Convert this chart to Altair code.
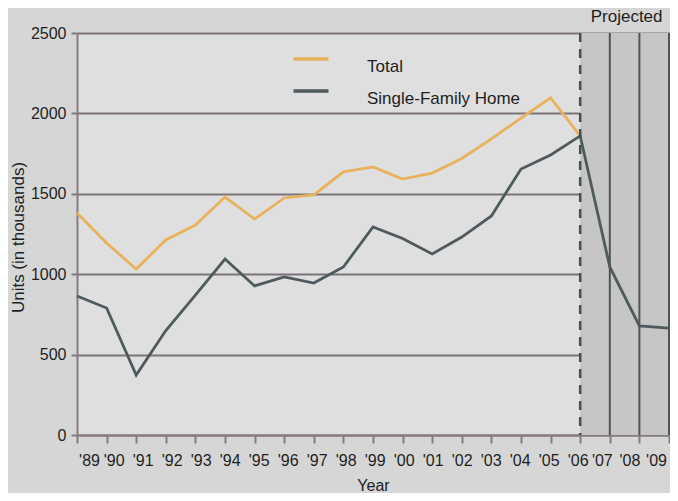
import altair as alt
import pandas as pd

years = list(range(1989, 2010))
total_years = list(range(1989, 2007))
total = [1381, 1194, 1032, 1213, 1306, 1480, 1343, 1474, 1493, 1636,
         1667, 1592, 1629, 1720, 1841, 1971, 2096, 1860]
single_family = [864, 790, 373, 650, 870, 1094, 927, 983, 945, 1045,
                 1294, 1222, 1126, 1231, 1362, 1654, 1741, 1860, 1045, 678, 665]
series_names = ["Total", "Single-Family Home"]
series_colors = ["#e8b25c", "#4f5a5e"]
projected_start, projected_end = 2006, 2009
solid_dividers = [2007, 2008, 2009]
y_ticks = [0, 500, 1000, 1500, 2000, 2500]

rows = [{"year": y, "units": v, "series": "Total"} for y, v in zip(total_years, total)]
rows += [{"year": y, "units": v, "series": "Single-Family Home"} for y, v in zip(years, single_family)]
lines_df = pd.DataFrame(rows)

FONT = "Liberation Sans"
AX = "#857b80"

x_scale = alt.Scale(domain=[years[0], years[-1]], nice=False, zero=False)
y_scale = alt.Scale(domain=[0, 2500], nice=False)

label_shift = alt.ExprRef(expr=(
    "datum.value == 1989 ? 12 : datum.value == 2009 ? -13 : datum.value == 2008 ? -10 : "
    "datum.value == 2007 ? -8 : 7 - (datum.value - 1990) * 0.6"))

x_axis = alt.Axis(values=years, title="Year",
                  labelExpr="\"'\" + substring(toString(datum.value), 2)",
                  labelFlush=False, labelOverlap=False, labelBound=False,
                  labelOffset=label_shift,
                  labelFont=FONT, labelFontSize=16,
                  labelColor="#1e1e1e", labelPadding=9,
                  tickColor=AX, tickWidth=2, tickSize=8,
                  domainColor=AX, domainWidth=2, grid=False,
                  titleFont=FONT, titleFontSize=16, titleFontWeight="normal",
                  titleColor="#1e1e1e", titleY=55, titleBaseline="alphabetic")
y_axis = alt.Axis(values=y_ticks, title="Units (in thousands)", format="d",
                  labelFont=FONT, labelFontSize=16, labelColor="#1e1e1e",
                  labelPadding=5, tickColor=AX, tickWidth=2, tickSize=6,
                  domainColor=AX, domainWidth=2,
                  grid=True, gridColor="#7c7479", gridWidth=2,
                  titleFont=FONT, titleFontSize=17, titleFontWeight="normal",
                  titleColor="#1e1e1e", titleAngle=-90,
                  titleX=-59, titleY=204, titleAlign="center",
                  titleBaseline="middle")

shade = alt.Chart(pd.DataFrame({"x": [projected_start], "x2": [projected_end],
                                "y": [0], "y2": [2500]})).mark_rect(
    color="#c6c6c6").encode(
    x=alt.X("x:Q", scale=x_scale, axis=x_axis),
    x2="x2:Q",
    y=alt.Y("y:Q", scale=y_scale, axis=y_axis),
    y2="y2:Q",
)

dashed = alt.Chart(pd.DataFrame({"x": [projected_start]})).mark_rule(
    color="#45524c", strokeWidth=2.5, strokeDash=[9, 7]).encode(
    x=alt.X("x:Q", scale=x_scale, axis=x_axis))

solids = alt.Chart(pd.DataFrame({"x": solid_dividers})).mark_rule(
    color="#505553", strokeWidth=2).encode(
    x=alt.X("x:Q", scale=x_scale, axis=x_axis))

lines = alt.Chart(lines_df).mark_line(strokeWidth=2.8).encode(
    x=alt.X("year:Q", scale=x_scale, axis=x_axis),
    y=alt.Y("units:Q", scale=y_scale, axis=y_axis),
    color=alt.Color("series:N",
                    scale=alt.Scale(domain=series_names, range=series_colors),
                    sort=series_names,
                    legend=alt.Legend(title=None, orient="none", legendX=214.5,
                                      legendY=18, symbolType="stroke",
                                      symbolSize=1225, symbolStrokeWidth=3.5,
                                      clipHeight=16, rowPadding=8,
                                      labelOffset=36.5, labelBaseline="top",
                                      labelFont=FONT, labelFontSize=17,
                                      labelColor="#1e1e1e", padding=0,
                                      labelLimit=300)),
    order=alt.Order("year:Q"),
)

projected_label = alt.Chart(pd.DataFrame({"x": [(projected_start + projected_end) / 2],
                                          "t": ["Projected"]})).mark_text(
    font=FONT, fontSize=17, color="#1e1e1e", baseline="middle", dy=-16, dx=2).encode(
    x=alt.X("x:Q", scale=x_scale, axis=x_axis),
    y=alt.value(0),
    text="t:N",
)

chart = alt.layer(shade, lines, dashed, solids, projected_label).properties(
    width=592, height=402,
    background="#d6d6d6",
    autosize=alt.AutoSizeParams(type="none"),
    padding={"left": 69, "top": 25, "right": 1, "bottom": 58},
).configure_view(fill="#dfdfdf", stroke=None).configure_axisX(labelOverlap=False)

chart.save("out.html", embed_options={"renderer": "svg", "actions": False})
